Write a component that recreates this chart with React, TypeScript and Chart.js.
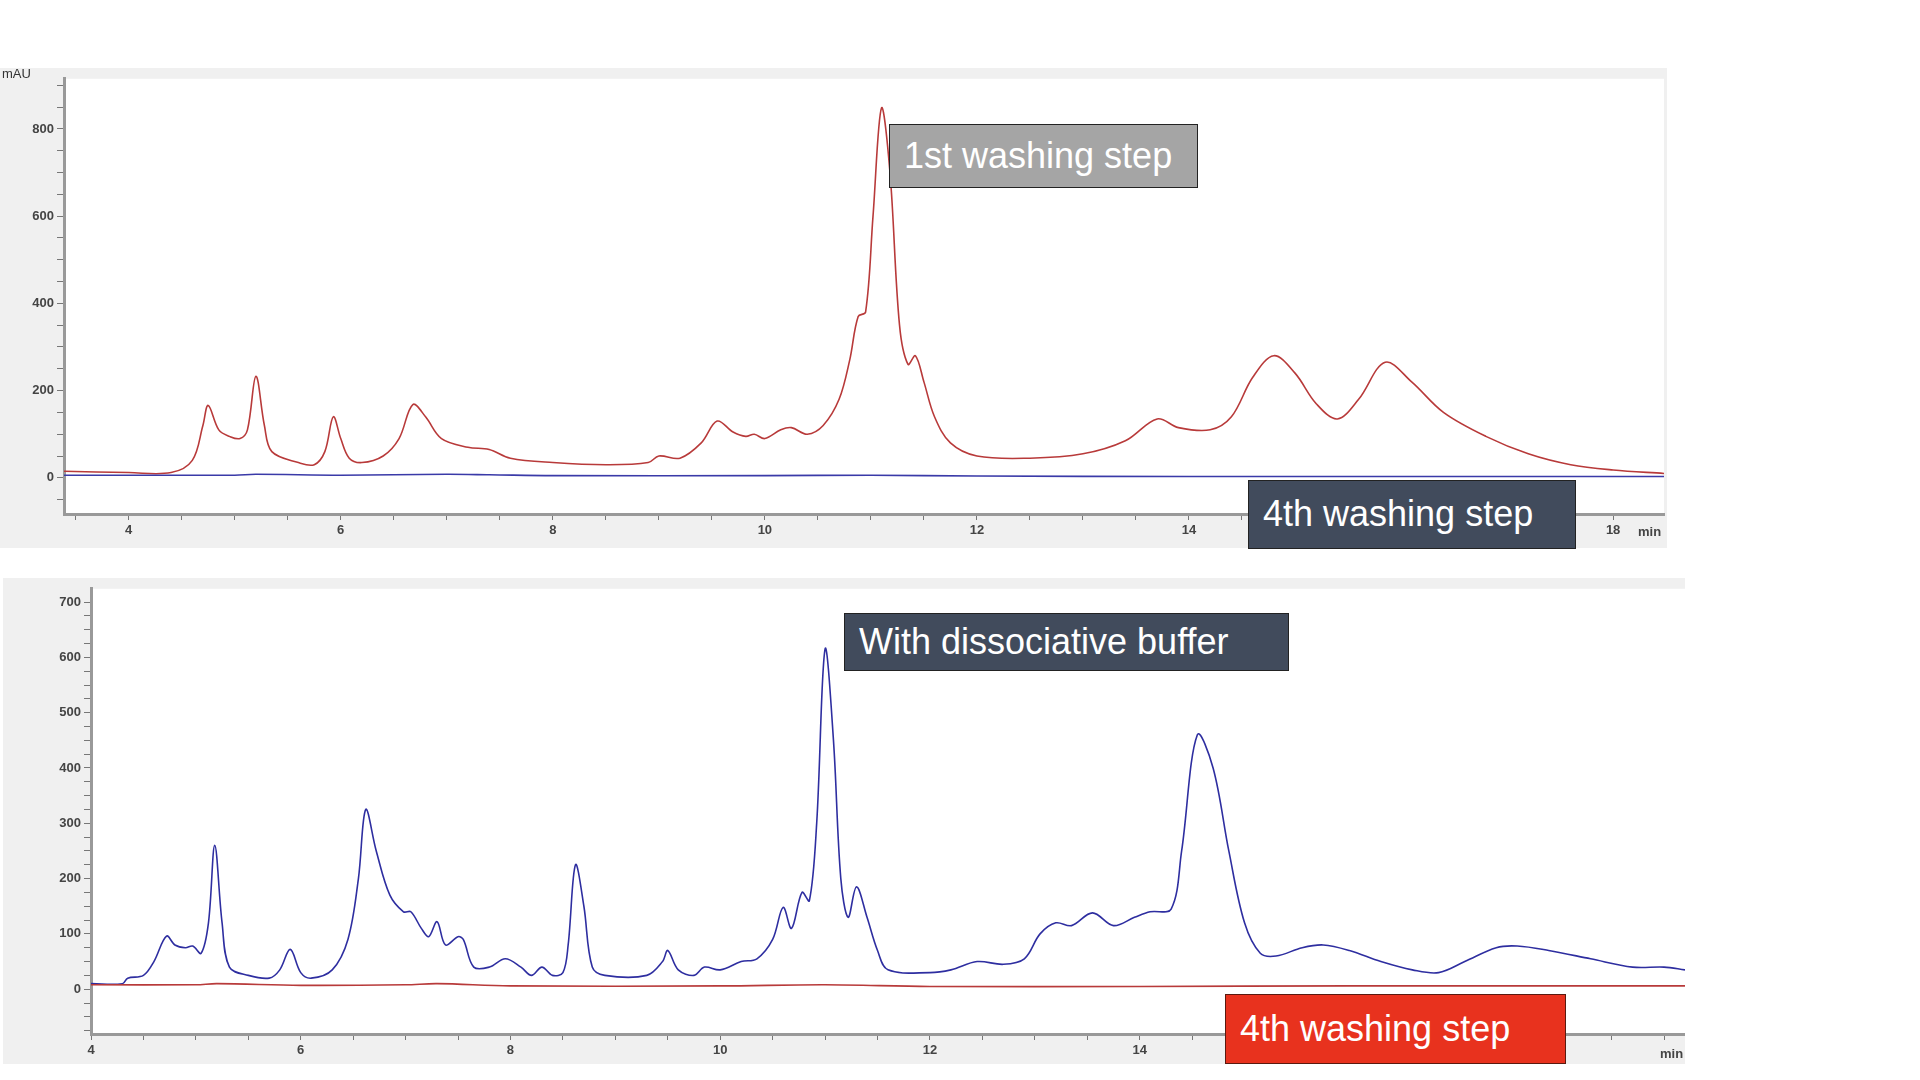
import React, { useEffect, useRef } from "react";
import { Chart, registerables } from "chart.js";
Chart.register(...registerables);

const topRedX = [3.39,4.0,4.4,4.6,4.7,4.75,4.85,4.95,5.05,5.12,5.2,5.28,5.35,5.6,5.75,5.85,5.93,6.0,6.08,6.2,6.4,6.55,6.68,6.8,6.95,7.2,7.4,7.6,8.0,8.5,8.9,9.0,9.2,9.4,9.55,9.7,9.82,9.9,10.0,10.15,10.25,10.4,10.55,10.7,10.8,10.88,10.95,11.02,11.1,11.18,11.27,11.35,11.42,11.5,11.6,11.75,12.0,12.5,13.0,13.4,13.7,13.9,14.2,14.4,14.6,14.8,15.0,15.2,15.4,15.6,15.85,16.1,16.4,16.8,17.2,17.6,18.0,18.48];
const topRedY = [15,12,12,40,120,166,110,95,90,110,233,120,60,35,30,60,140,90,45,35,50,90,168,140,90,70,65,45,35,30,35,50,45,80,130,105,95,100,90,110,115,100,120,180,270,370,380,600,848,700,350,260,280,220,140,80,50,45,55,85,135,115,110,140,230,280,240,170,135,180,265,220,150,95,55,30,18,10];
const topBlueX = [3.39,5.0,5.2,6.0,7.0,7.4,8.0,10.0,11.0,12.0,14.0,16.0,18.48];
const topBlueY = [6,6,8,6,8,7,5,5,6,4,3,3,3];

const botBlueX = [4.0,4.3,4.35,4.5,4.6,4.72,4.8,4.9,4.97,5.05,5.12,5.18,5.25,5.32,5.5,5.7,5.8,5.9,6.0,6.1,6.3,6.45,6.55,6.62,6.72,6.85,6.98,7.05,7.15,7.22,7.3,7.38,7.5,7.55,7.65,7.8,7.95,8.1,8.2,8.3,8.4,8.5,8.55,8.62,8.7,8.78,8.9,9.3,9.45,9.5,9.6,9.75,9.85,10.0,10.2,10.35,10.5,10.6,10.68,10.78,10.85,10.92,11.0,11.08,11.15,11.22,11.3,11.4,11.5,11.6,12.0,12.2,12.45,12.7,12.9,13.05,13.2,13.35,13.55,13.75,13.95,14.1,14.3,14.4,14.55,14.7,14.85,15.0,15.15,15.3,15.55,15.75,16.0,16.3,16.6,16.85,17.1,17.4,17.6,17.9,18.3,18.7,19.0,19.2];
const botBlueY = [10,10,20,25,50,96,80,75,78,65,120,260,120,40,25,20,35,72,30,20,35,90,200,325,250,170,140,140,110,95,122,80,95,90,40,40,55,40,25,40,25,30,80,225,150,40,25,25,50,70,35,25,40,35,50,55,90,148,110,175,160,300,615,450,200,130,185,130,70,35,30,35,50,45,55,100,120,115,138,115,130,140,145,250,460,400,250,120,65,60,75,80,70,50,35,30,50,75,78,70,55,40,40,35];
const botRedX = [4.0,5.0,5.2,6.0,7.0,7.3,8.0,10.0,11.0,12.0,14.0,16.0,19.2];
const botRedY = [8,8,10,7,8,10,6,6,8,5,5,6,6];

const topXTicks = [4, 6, 8, 10, 12, 14, 16, 18];
const botXTicks = [4, 6, 8, 10, 12, 14];

const bgPlugin = {
  id: "bg",
  beforeDraw(chart: any) {
    const { ctx, chartArea: a, width, height } = chart;
    ctx.save();
    ctx.fillStyle = "#f0f0f0";
    ctx.fillRect(0, 0, width, height);
    ctx.fillStyle = "#ffffff";
    ctx.fillRect(a.left, a.top, a.right - a.left, a.bottom - a.top);
    ctx.restore();
  },
};

function mk(xs: number[], ys: number[]) {
  return xs.map((x, i) => ({ x, y: ys[i] }));
}

function Plot(props: any) {
  const ref = useRef<HTMLCanvasElement>(null);
  useEffect(() => {
    const c = new Chart(ref.current!, {
      type: "line",
      data: {
        datasets: props.series.map((s: any) => ({
          data: mk(s.x, s.y),
          borderColor: s.color,
          borderWidth: 1.6,
          pointRadius: 0,
          tension: 0.35,
          fill: false,
        })),
      },
      options: {
        animation: false,
        responsive: false,
        maintainAspectRatio: false,
        layout: { padding: props.padding },
        plugins: { legend: { display: false }, tooltip: { enabled: false } },
        scales: {
          x: {
            type: "linear",
            min: props.xmin,
            max: props.xmax,
            afterFit: (s: any) => { s.height = props.xh; },
            afterBuildTicks: (s: any) => {
              const t = [];
              for (let v = 3.5; v <= props.xmax; v += 0.5) if (v >= props.xmin) t.push({ value: v });
              s.ticks = t;
            },
            ticks: {
              autoSkip: false,
              maxRotation: 0,
              color: "#444",
              font: { family: "Arial, Liberation Sans", size: 13, weight: "bold" },
              callback: (v: any) => (props.xlabels.includes(v) ? String(v) : ""),
            },
            grid: { drawOnChartArea: false, color: "#777", tickLength: 6 },
            border: { color: "#999", width: 3 },
          },
          y: {
            min: props.ymin,
            max: props.ymax,
            afterFit: (s: any) => { s.width = props.yw; },
            afterBuildTicks: (s: any) => {
              const t = [];
              for (let v = -props.ystep * 10; v <= props.ymax; v += props.ystep) if (v >= props.ymin) t.push({ value: v });
              s.ticks = t;
            },
            ticks: {
              autoSkip: false,
              color: "#444",
              font: { family: "Arial, Liberation Sans", size: 13, weight: "bold" },
              callback: (v: any) => (v >= 0 && v % props.ylab === 0 ? String(v) : ""),
            },
            grid: { drawOnChartArea: false, color: "#777", tickLength: 7 },
            border: { color: "#999", width: 3 },
          },
        },
      },
      plugins: [bgPlugin],
    } as any);
    return () => c.destroy();
  }, []);
  return (
    <div style={{ position: "absolute", left: props.left, top: props.top, width: props.w, height: props.h }}>
      <canvas ref={ref} width={props.w} height={props.h} style={{ width: props.w, height: props.h, display: "block" }} />
    </div>
  );
}

const box = (bg: string, color: string, left: number, top: number, w: number, h: number, text: string, border = "#222") => (
  <div style={{
    position: "absolute", left, top, width: w, height: h, background: bg, color,
    border: `1.5px solid ${border}`, boxSizing: "border-box", fontFamily: "Arial, Liberation Sans",
    fontSize: 36, lineHeight: `${h - 3}px`, paddingLeft: 14, whiteSpace: "nowrap",
  }}>{text}</div>
);

export default function App() {
  return (
    <div style={{ position: "fixed", left: 0, top: 0, width: 1920, height: 1080, background: "#fff", overflow: "hidden" }}>
      <Plot left={0} top={68} w={1667} h={480} padding={{ top: 3, right: 3, left: 0, bottom: 0 }}
        xmin={3.39} xmax={18.48} xh={34} yw={64} ymin={-83} ymax={915} ystep={50} ylab={200}
        xlabels={topXTicks}
        series={[{ x: topBlueX, y: topBlueY, color: "#3a3aa8" }, { x: topRedX, y: topRedY, color: "#b83a3a" }]} />
      <div style={{ position: "absolute", left: 2, top: 66, fontFamily: "Arial", fontSize: 13, color: "#333" }}>mAU</div>
      <div style={{ position: "absolute", left: 1638, top: 524, fontFamily: "Arial", fontSize: 13, fontWeight: "bold", color: "#444" }}>min</div>
      <Plot left={3} top={578} w={1682} h={486} padding={{ top: 3, right: 0, left: 0, bottom: 0 }}
        xmin={4} xmax={19.2} xh={30} yw={88} ymin={-81} ymax={724} ystep={25} ylab={100}
        xlabels={botXTicks}
        series={[{ x: botRedX, y: botRedY, color: "#b83a3a" }, { x: botBlueX, y: botBlueY, color: "#2e2ea0" }]} />
      <div style={{ position: "absolute", left: 1660, top: 1046, fontFamily: "Arial", fontSize: 13, fontWeight: "bold", color: "#444" }}>min</div>
      {box("#a5a5a5", "#fff", 889, 124, 309, 64, "1st washing step")}
      {box("#414b5c", "#fff", 1248, 480, 328, 69, "4th washing step")}
      {box("#414b5c", "#fff", 844, 613, 445, 58, "With dissociative buffer")}
      {box("#e8321e", "#fff", 1225, 994, 341, 70, "4th washing step", "#5a1a10")}
    </div>
  );
}
